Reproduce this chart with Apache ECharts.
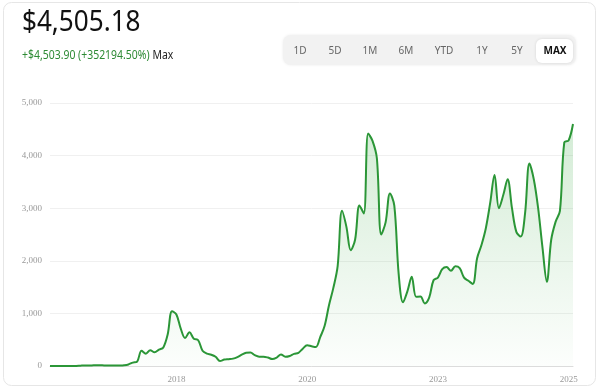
<!DOCTYPE html>
<html>
<head>
<meta charset="utf-8">
<script src="https://cdn.jsdelivr.net/npm/echarts@6/dist/echarts.min.js"></script>
<style>
html,body{margin:0;padding:0;background:#fff;}
#chart{width:600px;height:388px;}
</style>
</head>
<body>
<div id="chart"></div>
<script>
// Monthly closes, Aug 2015 .. Aug 2025
var startYear = 2015, startMonth = 8, monthCount = 121;
var prices = [
  1,1,1,1,1,1,2,7,11,9,12,13,12,10,11,9,10,
  15,30,65,85,290,235,300,260,310,354,600,1040,980,710,530,640,520,490,290,
  235,215,175,95,122,130,140,170,215,250,255,205,178,177,160,132,160,220,175,190,230,250,
  330,395,375,360,550,760,1150,1480,1900,2950,2650,2200,2400,3050,2900,4420,4280,3950,2500,2730,3280,3050,
  1750,1210,1420,1695,1316,1320,1190,1300,1630,1680,1840,1880,1810,1895,1860,1680,1620,1560,
  2050,2300,2620,3100,3630,3000,3250,3550,3000,2550,2460,2900,3850,3550,3000,2250,1600,2400,2740,2950,
  4250,4290,4600
];
var tickIndex = [29, 59, 89, 119];
var tickText = ['2018', '2020', '2023', '2025'];
var priceText = '$4,505.18';
var changeText = '+$4,503.90 (+352194.50%)';
var rangeText = 'Max';
var rangeButtons = ['1D', '5D', '1M', '6M', 'YTD', '1Y', '5Y', 'MAX'];
var buttonCenters = [300, 335, 370, 406, 444, 482, 517, 555];

var months = [];
for (var k = 0; k < monthCount; k++) {
  var m = startMonth - 1 + k;
  var y = startYear + Math.floor(m / 12);
  var mm = (m % 12) + 1;
  months.push(y + '-' + (mm < 10 ? '0' + mm : mm));
}

var chart = echarts.init(document.getElementById('chart'), null, {renderer: 'canvas'});

var graphics = [
  {type: 'rect', shape: {x: 3.5, y: 2.5, width: 592, height: 383, r: 8},
   style: {fill: 'none', stroke: '#e6e6e6', lineWidth: 1}, silent: true, z: 0},
  {type: 'text', x: 22, y: 8, scaleX: 0.9,
   style: {text: priceText, font: '29px "Noto Sans"', fill: '#111', textVerticalAlign: 'top'}},
  {type: 'text', x: 22, y: 50, scaleX: 0.87,
   style: {text: '{g|' + changeText + '} {b|' + rangeText + '}', textVerticalAlign: 'top',
     rich: {g: {font: '12px "Noto Sans"', fill: '#2e8b35'}, b: {font: '12px "Noto Sans"', fill: '#222'}}}},
  {type: 'rect', shape: {x: 283, y: 35, width: 293, height: 30, r: 8},
   style: {fill: '#f2f2f2', shadowBlur: 3, shadowColor: 'rgba(0,0,0,0.08)'}},
  {type: 'rect', shape: {x: 536, y: 39, width: 37, height: 24, r: 6},
   style: {fill: '#fff', shadowBlur: 3, shadowColor: 'rgba(0,0,0,0.12)'}}
];
for (var b = 0; b < rangeButtons.length; b++) {
  var isMax = rangeButtons[b] === 'MAX';
  graphics.push({type: 'text', x: buttonCenters[b], y: 51,
    style: {text: rangeButtons[b], font: (isMax ? 'bold ' : '') + '10px "Noto Sans"',
      fill: isMax ? '#111' : '#666', textAlign: 'center', textVerticalAlign: 'middle'}});
}

chart.setOption({
  animation: false,
  backgroundColor: '#fff',
  grid: {left: 50, right: 27, top: 103, bottom: 22},
  xAxis: {
    type: 'category', data: months, boundaryGap: false,
    axisLine: {lineStyle: {color: '#dcdcdc'}},
    axisTick: {show: false},
    splitLine: {show: false},
    axisLabel: {
      margin: 9, color: '#999', fontSize: 9, fontFamily: 'Liberation Serif',
      interval: function (i) { return tickIndex.indexOf(i) >= 0; },
      formatter: function (v, i) { var p = tickIndex.indexOf(i); return p >= 0 ? tickText[p] : ''; }
    }
  },
  yAxis: {
    type: 'value', min: 0, max: 5000, interval: 1000,
    axisLine: {show: false}, axisTick: {show: false},
    splitLine: {lineStyle: {color: '#f0f0f0'}},
    axisLabel: {margin: 8, color: '#999', fontSize: 9, fontFamily: 'Liberation Serif',
      formatter: function (v) { return v.toLocaleString('en-US'); }}
  },
  series: [{
    type: 'line', data: prices, smooth: 0.35, symbol: 'none',
    lineStyle: {color: '#2b9637', width: 2},
    areaStyle: {color: new echarts.graphic.LinearGradient(0, 0, 0, 1, [
      {offset: 0, color: 'rgba(60,170,70,0.32)'},
      {offset: 1, color: 'rgba(60,170,70,0.02)'}
    ])}
  }],
  graphic: graphics
});
</script>
</body>
</html>
